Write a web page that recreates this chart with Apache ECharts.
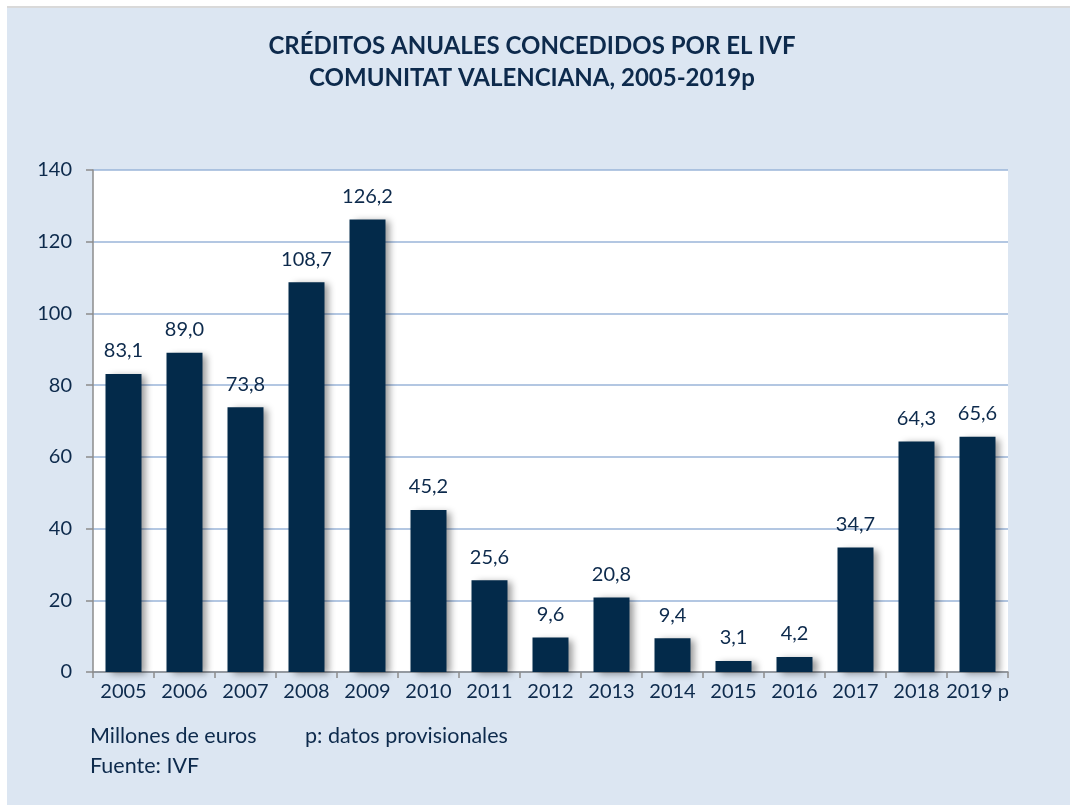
<!DOCTYPE html>
<html>
<head>
<meta charset="utf-8">
<script src="https://cdn.jsdelivr.net/npm/echarts@6/dist/echarts.min.js"></script>
<style>
  html, body { margin: 0; padding: 0; background: #fff; }
  #container { width: 1070px; height: 805px; }
</style>
</head>
<body>
<div id="container"></div>
<script>
// data
const years = ['2005', '2006', '2007', '2008', '2009', '2010', '2011', '2012',
    '2013', '2014', '2015', '2016', '2017', '2018', '2019 p'];
const credits = [83.1, 89.0, 73.8, 108.7, 126.2, 45.2, 25.6, 9.6, 20.8, 9.4, 3.1, 4.2, 34.7, 64.3, 65.6];
const yTicks = [0, 20, 40, 60, 80, 100, 120, 140];

const textColor = '#0d2a4c';
const fontName = 'Lato, "Open Sans", sans-serif';

let dom = document.getElementById('container');
let myChart = echarts.init(dom);

const option = {
    backgroundColor: '#dce6f2',
    animation: false,
    textStyle: { fontFamily: fontName },
    graphic: [
        { type: 'rect', shape: { x: 0, y: 0, width: 1070, height: 6 }, style: { fill: '#ffffff' } },
        { type: 'rect', shape: { x: 0, y: 0, width: 7, height: 805 }, style: { fill: '#ffffff' } },
        { type: 'rect', shape: { x: 7, y: 6, width: 1063, height: 2 }, style: { fill: '#d9d9d9' } },
        {
            type: 'text', left: 90, top: 725,
            style: { text: 'Millones de euros', fill: textColor, font: '21.5px ' + fontName }
        },
        {
            type: 'text', left: 305, top: 725,
            style: { text: 'p: datos provisionales', fill: textColor, font: '21.5px ' + fontName }
        },
        {
            type: 'text', left: 90, top: 755,
            style: { text: 'Fuente: IVF', fill: textColor, font: '21.5px ' + fontName }
        }
    ],
    title: {
        text: 'CRÉDITOS ANUALES CONCEDIDOS POR EL IVF\nCOMUNITAT VALENCIANA, 2005-2019p',
        left: 527,
        textAlign: 'center',
        top: 25,
        textStyle: {
            color: textColor,
            fontSize: 24,
            fontWeight: 'bold',
            lineHeight: 32,
            fontFamily: fontName
        }
    },
    grid: {
        left: 93,
        right: 62,
        top: 170,
        bottom: 133,
        show: true,
        backgroundColor: '#ffffff',
        borderWidth: 0
    },
    xAxis: {
        type: 'category',
        data: years,
        axisLine: { show: true, lineStyle: { color: '#8c8c8c', width: 1.5 } },
        axisTick: { show: true, length: 6, lineStyle: { color: '#8c8c8c', width: 1.5 } },
        axisLabel: { color: textColor, fontSize: 20, margin: 10, interval: 0 }
    },
    yAxis: {
        type: 'value',
        min: yTicks[0],
        max: yTicks[yTicks.length - 1],
        interval: 20,
        axisLine: { show: true, lineStyle: { color: '#8c8c8c', width: 1.5 } },
        axisTick: { show: true, length: 7, lineStyle: { color: '#8c8c8c', width: 1.5 } },
        axisLabel: { color: textColor, fontSize: 20, margin: 21 },
        splitLine: { show: true, lineStyle: { color: '#9ab5d8', width: 1.5 } }
    },
    series: [
        {
            name: 'Créditos',
            type: 'bar',
            data: credits,
            barCategoryGap: '41%',
            itemStyle: {
                color: '#032a4a',
                shadowColor: 'rgba(0, 0, 0, 0.4)',
                shadowBlur: 7,
                shadowOffsetX: 5,
                shadowOffsetY: 2
            },
            label: {
                show: true,
                position: 'top',
                distance: 13,
                color: textColor,
                fontSize: 20,
                formatter: (p) => p.value.toFixed(1).replace('.', ',')
            }
        }
    ]
};

myChart.setOption(option);
</script>
</body>
</html>
